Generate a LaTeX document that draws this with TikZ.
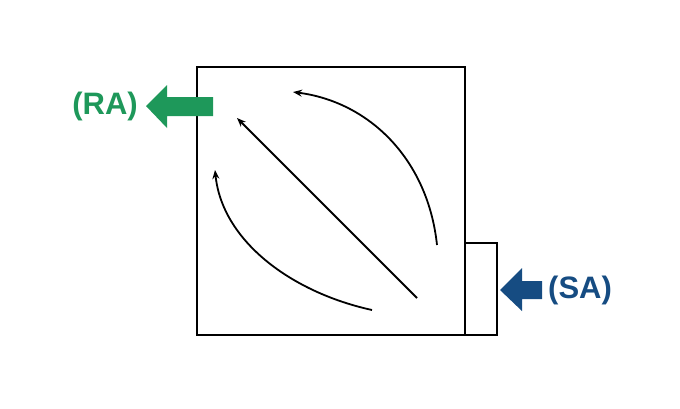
\documentclass[tikz,border=0pt]{standalone}
\usepackage{fontspec}
\setmainfont{Liberation Sans}
\usepackage{tikz}
\usetikzlibrary{arrows.meta}
\definecolor{ragreen}{RGB}{30,152,90}
\definecolor{sablue}{RGB}{22,76,130}
\tikzset{
  flow/.style={line width=1.8pt, -{Stealth[length=9pt,width=7pt]}},
  wall/.style={line width=2pt},
  tag/.style={font=\bfseries\fontsize{31}{33}\selectfont, inner sep=0pt}
}

\begin{document}
\begin{tikzpicture}[x=1pt,y=-1pt]
			%%%%% START %%%%%
			\useasboundingbox (0, 0) rectangle (680, 408);
			
			\draw[wall] (197, 67) rectangle (465, 335);
			\draw[wall] (465, 243) rectangle (497, 335);
			
			\fill[ragreen] (213, 97) -- (167, 97) -- (167, 85) -- (146, 106) -- (167, 128) -- (167, 116) -- (213, 116) -- cycle;
			\node[tag, color=ragreen, anchor=east] (ra) at (138, 106) {(RA)};
			
			\fill[sablue] (542, 281) -- (522, 281) -- (522, 268) -- (500, 290) -- (522, 311) -- (522, 299) -- (542, 299) -- cycle;
			\node[tag, color=sablue, anchor=west] (sa) at (548, 290) {(SA)};
			
			\coordinate (lowin) at (372, 310);
			\coordinate (lowout) at (215, 170);
			\coordinate (midin) at (417, 298);
			\coordinate (midout) at (237, 118);
			\coordinate (topin) at (437, 245);
			\coordinate (topout) at (293, 92);
			
			\draw[flow] (lowin) .. controls (290, 292) and (222, 240) .. (lowout);
			\draw[flow] (midin) -- (midout);
			\draw[flow] (topin) .. controls (428, 160) and (370, 102) .. (topout);
			%%%%% END %%%%%
\end{tikzpicture}
\end{document}
